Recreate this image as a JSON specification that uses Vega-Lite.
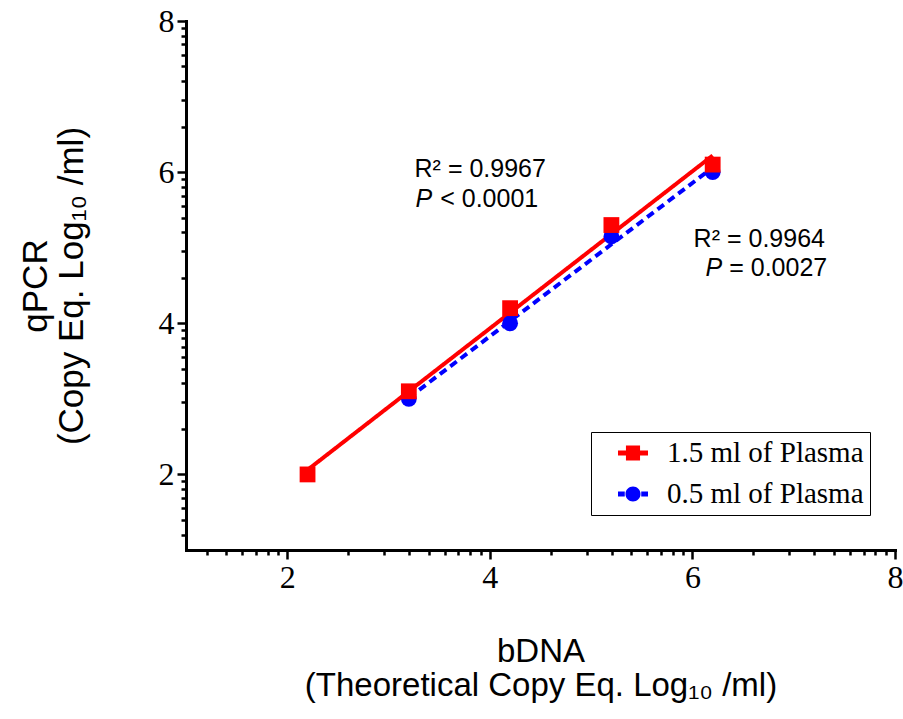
{
  "$schema": "https://vega.github.io/schema/vega-lite/v6.json",
  "width": 709,
  "height": 529,
  "autosize": {"type": "none"},
  "padding": {"left": 186, "top": 21, "right": 8, "bottom": 169},
  "background": "white",
  "config": {
    "view": {"stroke": null},
    "axis": {
      "grid": false,
      "domainColor": "black",
      "domainWidth": 3,
      "domainCap": "square",
      "tickColor": "black",
      "tickWidth": 2.5,
      "labelFont": "Liberation Serif",
      "labelFontSize": 32,
      "labelColor": "black",
      "labelFlush": false,
      "labelOverlap": false,
      "titleFont": "Liberation Sans",
      "titleFontWeight": "normal",
      "titleColor": "black"
    }
  },
  "datasets": {
    "pts": [
      {"series": "0.5 ml of Plasma", "x": 3.2, "y": 3.0},
      {"series": "0.5 ml of Plasma", "x": 4.2, "y": 4.0},
      {"series": "0.5 ml of Plasma", "x": 5.2, "y": 5.15},
      {"series": "0.5 ml of Plasma", "x": 6.2, "y": 6.0},
      {"series": "1.5 ml of Plasma", "x": 2.2, "y": 2.0},
      {"series": "1.5 ml of Plasma", "x": 3.2, "y": 3.1},
      {"series": "1.5 ml of Plasma", "x": 4.2, "y": 4.2},
      {"series": "1.5 ml of Plasma", "x": 5.2, "y": 5.3},
      {"series": "1.5 ml of Plasma", "x": 6.2, "y": 6.1}
    ],
    "r2": [
      {"t": "R² = 0.9967", "x": 3.905, "y": 5.93},
      {"t": "R² = 0.9964", "x": 6.66, "y": 5.012}
    ],
    "pItal": [
      {"t": "P", "x": 3.431, "y": 5.545},
      {"t": "P", "x": 6.294, "y": 4.623}
    ],
    "pRest": [
      {"t": "< 0.0001", "x": 3.51, "y": 5.545},
      {"t": "= 0.0027", "x": 6.363, "y": 4.623}
    ]
  },
  "layer": [
    {
      "data": {"name": "pts"},
      "transform": [{"regression": "y", "on": "x", "groupby": ["series"]}],
      "mark": {"type": "line", "strokeWidth": 4},
      "encoding": {
        "x": {
          "field": "x", "type": "quantitative",
          "scale": {"domain": [1, 8], "nice": false, "zero": false},
          "axis": {
            "values": [1.20412, 1.39794, 1.5563, 1.690196, 1.80618, 1.908485, 2, 2.60206, 2.954243, 3.20412, 3.39794, 3.5563, 3.690196, 3.80618, 3.908485, 4, 4.60206, 4.954243, 5.20412, 5.39794, 5.5563, 5.690196, 5.80618, 5.908485, 6, 6.60206, 6.954243, 7.20412, 7.39794, 7.5563, 7.690196, 7.80618, 7.908485, 8],
            "tickCount": 200,
            "labelExpr": "datum.value % 2 === 0 ? format(datum.value, 'd') : ''",
            "tickSize": {"condition": {"test": "datum.value % 2 === 0", "value": 9}, "value": 5},
            "labelPadding": 3,
            "title": ["bDNA", "(Theoretical Copy Eq. Log₁₀ /ml)"],
            "titleFontSize": 33,
            "titleLineHeight": 34,
            "titlePadding": 42
          }
        },
        "y": {
          "field": "y", "type": "quantitative",
          "scale": {"domain": [1, 8], "nice": false, "zero": false},
          "axis": {
            "values": [1.20412, 1.39794, 1.5563, 1.690196, 1.80618, 1.908485, 2, 2.60206, 2.954243, 3.20412, 3.39794, 3.5563, 3.690196, 3.80618, 3.908485, 4, 4.60206, 4.954243, 5.20412, 5.39794, 5.5563, 5.690196, 5.80618, 5.908485, 6, 6.60206, 6.954243, 7.20412, 7.39794, 7.5563, 7.690196, 7.80618, 7.908485, 8],
            "tickCount": 200,
            "labelExpr": "datum.value % 2 === 0 ? format(datum.value, 'd') : ''",
            "tickSize": {"condition": {"test": "datum.value % 2 === 0", "value": 9}, "value": 5},
            "labelPadding": 3,
            "title": ["qPCR", "(Copy Eq. Log₁₀ /ml)"],
            "titleFontSize": 35,
            "titleLineHeight": 36,
            "titlePadding": 69
          }
        },
        "color": {
          "field": "series", "type": "nominal",
          "scale": {"domain": ["1.5 ml of Plasma", "0.5 ml of Plasma"], "range": ["#ff0000", "#0000ff"]},
          "legend": null
        },
        "strokeDash": {
          "field": "series", "type": "nominal",
          "scale": {"domain": ["1.5 ml of Plasma", "0.5 ml of Plasma"], "range": [[1, 0], [8, 5]]},
          "legend": null
        }
      }
    },
    {
      "data": {"name": "pts"},
      "mark": {"type": "point", "filled": true, "opacity": 1, "size": 250},
      "encoding": {
        "x": {"field": "x", "type": "quantitative"},
        "y": {"field": "y", "type": "quantitative"},
        "color": {
          "field": "series", "type": "nominal",
          "scale": {"domain": ["1.5 ml of Plasma", "0.5 ml of Plasma"], "range": ["#ff0000", "#0000ff"]},
          "legend": null
        },
        "shape": {
          "field": "series", "type": "nominal",
          "scale": {"domain": ["1.5 ml of Plasma", "0.5 ml of Plasma"], "range": ["square", "circle"]},
          "legend": null
        }
      }
    },
    {
      "data": {"name": "pts"},
      "mark": {"type": "point", "filled": true, "opacity": 0},
      "encoding": {
        "x": {"field": "x", "type": "quantitative"},
        "y": {"field": "y", "type": "quantitative"},
        "color": {
          "field": "series", "type": "nominal",
          "scale": {"domain": ["1.5 ml of Plasma", "0.5 ml of Plasma"], "range": ["#ff0000", "#0000ff"]},
          "legend": {
            "title": null, "orient": "none", "legendX": 405, "legendY": 411,
            "labelFont": "Liberation Serif", "labelFontSize": 29, "labelColor": "black", "labelLimit": 500,
            "labelExpr": "datum.label + '       '",
            "symbolSize": 900, "symbolStrokeWidth": 0, "symbolOpacity": 1,
            "strokeColor": "black", "fillColor": "white", "padding": 6,
            "rowPadding": 11, "labelOffset": 19, "symbolOffset": 21
          }
        },
        "shape": {
          "field": "series", "type": "nominal",
          "scale": {
            "domain": ["1.5 ml of Plasma", "0.5 ml of Plasma"],
            "range": [
              "M-1,-0.17H1V0.17H-1Z M-0.47,-0.5H0.47V0.5H-0.47Z",
              "M-1,-0.17H-0.55V0.17H-1Z M0.55,-0.17H1V0.17H0.55Z M-0.5,0A0.5,0.5 0 1,1 0.5,0A0.5,0.5 0 1,1 -0.5,0Z"
            ]
          },
          "legend": {
            "title": null, "orient": "none", "legendX": 405, "legendY": 411,
            "labelFont": "Liberation Serif", "labelFontSize": 29, "labelColor": "black", "labelLimit": 500,
            "labelExpr": "datum.label + '       '",
            "symbolSize": 900, "symbolStrokeWidth": 0, "symbolOpacity": 1,
            "strokeColor": "black", "fillColor": "white", "padding": 6,
            "rowPadding": 11, "labelOffset": 19, "symbolOffset": 21
          }
        }
      }
    },
    {
      "data": {"name": "r2"},
      "mark": {"type": "text", "font": "Liberation Sans", "fontSize": 25, "align": "center", "baseline": "alphabetic", "color": "black"},
      "encoding": {
        "x": {"field": "x", "type": "quantitative"},
        "y": {"field": "y", "type": "quantitative"},
        "text": {"field": "t"}
      }
    },
    {
      "data": {"name": "pItal"},
      "mark": {"type": "text", "font": "Liberation Sans", "fontSize": 25, "fontStyle": "italic", "align": "right", "baseline": "alphabetic", "color": "black"},
      "encoding": {
        "x": {"field": "x", "type": "quantitative"},
        "y": {"field": "y", "type": "quantitative"},
        "text": {"field": "t"}
      }
    },
    {
      "data": {"name": "pRest"},
      "mark": {"type": "text", "font": "Liberation Sans", "fontSize": 25, "align": "left", "baseline": "alphabetic", "color": "black"},
      "encoding": {
        "x": {"field": "x", "type": "quantitative"},
        "y": {"field": "y", "type": "quantitative"},
        "text": {"field": "t"}
      }
    }
  ],
  "resolve": {"scale": {"color": "independent", "shape": "independent", "strokeDash": "independent"}}
}
